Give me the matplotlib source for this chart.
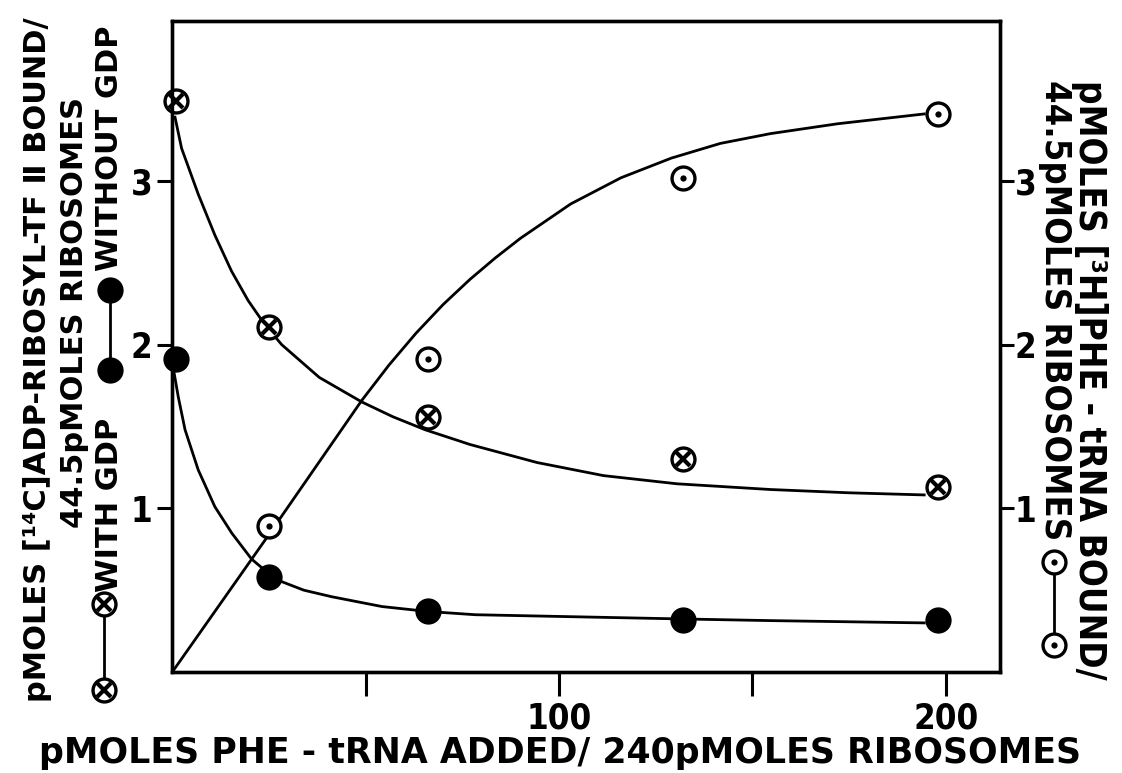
import matplotlib
matplotlib.use('Agg')
import matplotlib.pyplot as plt

plt.rcParams['font.family'] = ['DejaVu Sans']
plt.rcParams['font.weight'] = 'bold'
plt.rcParams['font.stretch'] = 'condensed'

# measured points (pMOLES PHE-tRNA added)
x_pts = [1, 25, 66, 132, 198]
with_gdp = [3.49, 2.11, 1.56, 1.30, 1.13]
without_gdp = [1.91, 0.58, 0.37, 0.32, 0.32]
x_trna = [25, 66, 132, 198]
trna_bound = [0.89, 1.91, 3.02, 3.41]

# hand drawn curves
with_curve_x = [0.7, 2.4, 6.7, 11.0, 15.3, 19.6, 24, 28.3, 38, 49, 57, 65.4, 77, 94.3, 111.5, 130.5, 154.7, 175, 194.4]
with_curve_y = [3.39, 3.20, 2.92, 2.67, 2.45, 2.27, 2.12, 2.00, 1.80, 1.65, 1.56, 1.48, 1.39, 1.28, 1.20, 1.15, 1.115, 1.095, 1.082]
without_curve_x = [0.3, 1.55, 3.3, 6.7, 11, 15.4, 20.5, 25, 28.3, 34, 41.2, 54.2, 66, 78.3, 103, 130, 154.7, 194.4]
without_curve_y = [1.85, 1.68, 1.48, 1.235, 1.01, 0.848, 0.69, 0.60, 0.552, 0.50, 0.46, 0.40, 0.37, 0.35, 0.338, 0.325, 0.314, 0.30]
trna_curve_x = [0, 24.1, 49, 56, 63, 70, 77, 83.5, 90, 103, 116, 129, 141.7, 154.7, 172, 194.4]
trna_curve_y = [0, 0.81, 1.66, 1.875, 2.07, 2.245, 2.40, 2.53, 2.65, 2.86, 3.02, 3.14, 3.23, 3.29, 3.35, 3.41]

x_ticks = [50, 100, 150, 200]
x_ticklabels = ['', '100', '', '200']
y_ticks = [1, 2, 3]

MS = 16.5
MEW = 2.4


def marks(ax, xs, ys, kind, **kw):
    if kind == 'filled':
        ax.plot(xs, ys, 'o', ms=MS, mfc='k', mec='k', mew=MEW, ls='none', zorder=5, **kw)
        return
    ax.plot(xs, ys, 'o', ms=MS, mfc='white', mec='k', mew=MEW, ls='none', zorder=5, **kw)
    if kind == 'dot':
        ax.plot(xs, ys, 'o', ms=4.5, mfc='k', mec='k', mew=0, ls='none', zorder=6, **kw)
    else:
        ax.plot(xs, ys, 'x', ms=10, mec='k', mew=3, ls='none', zorder=6, **kw)


fig = plt.figure(figsize=(11.22, 7.73), dpi=100)
ax = fig.add_axes([0.15357, 0.13066, 0.7377, 0.8426])
ax.set_xlim(0, 214)
ax.set_ylim(0, 3.98)

ax.plot(with_curve_x, with_curve_y, color='k', lw=2.0, zorder=2)
ax.plot(without_curve_x, without_curve_y, color='k', lw=2.0, zorder=2)
ax.plot(trna_curve_x, trna_curve_y, color='k', lw=2.0, zorder=2)
marks(ax, x_pts, with_gdp, 'cross', clip_on=False)
marks(ax, x_pts, without_gdp, 'filled', clip_on=False)
marks(ax, x_trna, trna_bound, 'dot', clip_on=False)

for s in ax.spines.values():
    s.set_linewidth(2.4)
ax.set_xticks(x_ticks)
ax.set_xticklabels(x_ticklabels)
ax.set_yticks(y_ticks)
ax.tick_params(axis='x', direction='out', length=17, width=2.2, pad=4, labelsize=25)
ax.tick_params(axis='y', direction='out', length=11, width=2.2, pad=3.5, labelsize=25)

ax2 = ax.twinx()
ax2.set_ylim(ax.get_ylim())
ax2.set_yticks(y_ticks)
ax2.tick_params(axis='y', direction='out', length=10, width=2.2, pad=0.5, labelsize=25)
for s in ax2.spines.values():
    s.set_linewidth(2.4)

# overlay in pixel coordinates for the axis titles and their keys
ov = fig.add_axes([0, 0, 1, 1], facecolor='none')
ov.set_xlim(0, 1122)
ov.set_ylim(773, 0)
ov.axis('off')

ov.text(560, 753, 'pMOLES PHE - tRNA ADDED/ 240pMOLES RIBOSOMES', ha='center', va='center',
        fontsize=25, fontstretch='normal')

side = dict(rotation=90, ha='center', va='center', fontsize=22, fontstretch='normal')
ov.text(38, 360, 'pMOLES [¹⁴C]ADP-RIBOSYL-TF Ⅱ BOUND/', **side)
ov.text(75, 312, '44.5pMOLES RIBOSOMES', **side)
ov.plot([104, 104], [690, 604], color='k', lw=2.0)
marks(ov, [104, 104], [690, 604], 'cross')
ov.text(110, 505, 'WITH GDP', **side)
ov.plot([110, 110], [370, 290], color='k', lw=2.0)
marks(ov, [110, 110], [370, 290], 'filled')
ov.text(110, 148, 'WITHOUT GDP', **side)

ov.text(1090, 80, 'pMOLES [³H]PHE - tRNA BOUND/', rotation=-90, ha='center', va='top', fontsize=26.5)
ov.text(1055, 80, '44.5pMOLES RIBOSOMES', rotation=-90, ha='center', va='top', fontsize=26)
ov.plot([1054, 1054], [562, 645], color='k', lw=2.0)
marks(ov, [1054, 1054], [562, 645], 'dot')

fig.savefig('out.png', dpi=100)
